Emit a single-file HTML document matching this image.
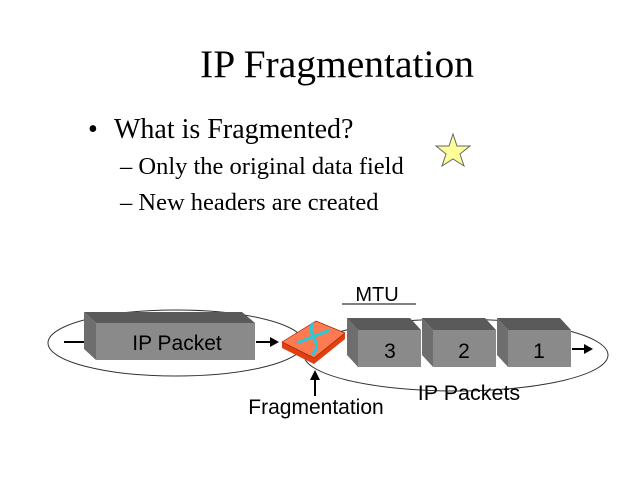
<!DOCTYPE html>
<html><head><style>
body{margin:0;background:#fff;}
</style></head><body>
<svg width="640" height="480" xmlns="http://www.w3.org/2000/svg" style="display:block">
<text x="337" y="77" text-anchor="middle" font-family="Liberation Serif, serif" font-size="39.5">IP Fragmentation</text>
<text x="88" y="138" font-family="Liberation Serif, serif" font-size="28">•</text>
<text x="114" y="138" font-family="Liberation Serif, serif" font-size="28">What is Fragmented?</text>
<text x="120" y="174" font-family="Liberation Serif, serif" font-size="24.5">– Only the original data field</text>
<text x="120" y="210" font-family="Liberation Serif, serif" font-size="24.5">– New headers are created</text>
<polygon points="453,134 457,146 470,146 460,154 464,166 453,159 442,166 446,154 436,146 449,146" fill="#ffff99" stroke="#666" stroke-width="1"/>
<ellipse cx="176" cy="343" rx="128" ry="33" fill="none" stroke="#333" stroke-width="1"/>
<ellipse cx="456" cy="355" rx="152" ry="36" fill="none" stroke="#333" stroke-width="1"/>
<line x1="64" y1="342" x2="86" y2="342" stroke="#000" stroke-width="2"/>
<polygon points="84,312 242,312 255,323 96,323" fill="#5a5a5a"/>
<rect x="96" y="323" width="159" height="37" fill="#8a8a8a"/>
<polygon points="84,312 96,323 96,360 84,349" fill="#6e6e6e"/>
<text x="177" y="350" text-anchor="middle" font-family="Liberation Sans, sans-serif" font-size="21">IP Packet</text>
<line x1="256" y1="342" x2="272" y2="342" stroke="#000" stroke-width="2"/>
<polygon points="270,337 279,342 270,347" fill="#000"/>
<polygon points="282,342 282,348 314,364 345,339 345,333 314,358" fill="#e04010"/>
<polygon points="282,342 316,321 345,333 314,358" fill="#ff7a50" stroke="#a02000" stroke-width="0.7"/>
<path d="M297,343 L330,330 M313,323 C305,335 325,342 312,355" stroke="#22ccdd" stroke-width="3" fill="none"/>
<g font-family="Liberation Sans, sans-serif" font-size="21" text-anchor="middle">
<polygon points="347,318 410,318 421,330 358,330" fill="#5a5a5a"/>
<rect x="358" y="330" width="63" height="37" fill="#8a8a8a"/>
<polygon points="347,318 358,330 358,367 347,355" fill="#6e6e6e"/>
<text x="390" y="358">3</text>
<polygon points="422,318 485,318 496,330 433,330" fill="#5a5a5a"/>
<rect x="433" y="330" width="63" height="37" fill="#8a8a8a"/>
<polygon points="422,318 433,330 433,367 422,355" fill="#6e6e6e"/>
<text x="464" y="358">2</text>
<polygon points="497,318 560,318 571,330 508,330" fill="#5a5a5a"/>
<rect x="508" y="330" width="63" height="37" fill="#8a8a8a"/>
<polygon points="497,318 508,330 508,367 497,355" fill="#6e6e6e"/>
<text x="539" y="358">1</text>
</g>
<line x1="572" y1="349" x2="586" y2="349" stroke="#000" stroke-width="2"/>
<polygon points="584,344 593,349 584,354" fill="#000"/>
<line x1="342" y1="304" x2="416" y2="304" stroke="#000" stroke-width="1"/>
<text x="377" y="301" text-anchor="middle" font-family="Liberation Sans, sans-serif" font-size="20">MTU</text>
<line x1="315" y1="396" x2="315" y2="378" stroke="#000" stroke-width="2"/>
<polygon points="310,380 315,370 320,380" fill="#000"/>
<text x="316" y="414" text-anchor="middle" font-family="Liberation Sans, sans-serif" font-size="21">Fragmentation</text>
<text x="469" y="400" text-anchor="middle" font-family="Liberation Sans, sans-serif" font-size="21.5">IP Packets</text>
</svg>
</body></html>
